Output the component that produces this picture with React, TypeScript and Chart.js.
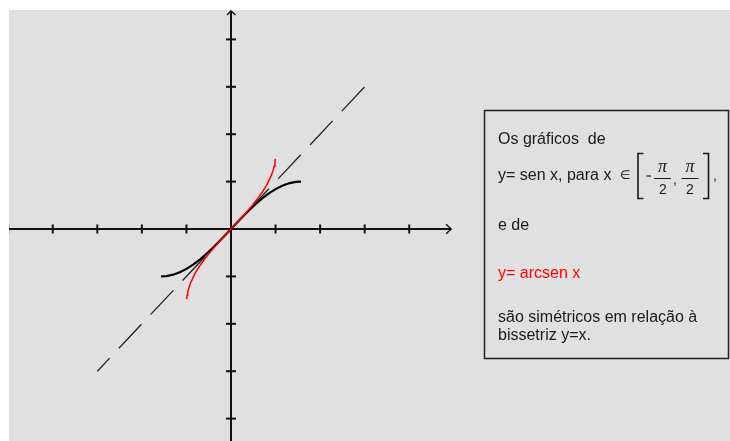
import { useEffect, useRef } from "react";
import { Chart, registerables } from "chart.js";

Chart.register(...registerables);

// Tick values on the axes
const xTicks = [-5, -4, -3, -2, -1, 1, 2, 3, 4];
const yTicks = [-4, -3, -2, -1, 1, 2, 3, 4];
// Axis extents (data units)
const xAxisExtent = [-5, 4.94];
const yAxisExtent = [-4.5, 4.6];

// y = sen x, x in [-pi/2, pi/2]
const sinX = [-1.571, -1.45, -1.3, -1.15, -1.0, -0.85, -0.7, -0.55, -0.4, -0.25, -0.1, 0, 0.1, 0.25, 0.4, 0.55, 0.7, 0.85, 1.0, 1.15, 1.3, 1.45, 1.571];
const sinY = [-1.0, -0.993, -0.964, -0.913, -0.841, -0.751, -0.644, -0.523, -0.389, -0.247, -0.1, 0, 0.1, 0.247, 0.389, 0.523, 0.644, 0.751, 0.841, 0.913, 0.964, 0.993, 1.0];

// y = arcsen x
const asinX = [-0.996, -0.985, -0.97, -0.94, -0.9, -0.8, -0.7, -0.6, -0.45, -0.3, -0.15, 0, 0.15, 0.3, 0.45, 0.6, 0.7, 0.8, 0.9, 0.94, 0.97, 0.985, 0.996];
const asinY = [-1.48, -1.398, -1.325, -1.223, -1.12, -0.927, -0.775, -0.644, -0.467, -0.305, -0.151, 0, 0.151, 0.305, 0.467, 0.644, 0.775, 0.927, 1.12, 1.223, 1.325, 1.398, 1.48];

// bissetriz y = x
const bisX = [-3, 3];
const bisY = [-3, 3];

const textLines = [
  { text: "Os gráficos  de", color: "#1a1a1a", y: 144 },
  { text: "y= sen x, para x", color: "#1a1a1a", y: 179.5 },
  { text: "e de", color: "#1a1a1a", y: 230 },
  { text: "y= arcsen x", color: "#ff0000", y: 278 },
  { text: "são simétricos em relação à", color: "#1a1a1a", y: 321.5 },
  { text: "bissetriz y=x.", color: "#1a1a1a", y: 340 },
];

const toPts = (xs: number[], ys: number[]) => xs.map((x, i) => ({ x, y: ys[i] }));

const W = 730;
const H = 441;
const X0 = 231; // pixel of x=0
const Y0 = 229; // pixel of y=0
const UX = 44.56;
const UY = 47.4;

const drawPlugin = {
  id: "drawing",
  beforeDraw(chart: any) {
    const ctx = chart.ctx;
    ctx.save();
    ctx.fillStyle = "#ffffff";
    ctx.fillRect(0, 0, W, H);
    ctx.fillStyle = "#e0e0e0";
    ctx.fillRect(9, 10, W - 9, H - 10);
    ctx.restore();
  },
  beforeDatasetsDraw(chart: any) {
    const ctx = chart.ctx;
    const xs = chart.scales.x;
    const ys = chart.scales.y;
    const x0 = xs.getPixelForValue(0);
    const y0 = ys.getPixelForValue(0);
    ctx.save();
    ctx.beginPath();
    ctx.rect(9, 10, W - 9, H - 10);
    ctx.clip();
    ctx.strokeStyle = "#111111";
    ctx.lineWidth = 2;
    ctx.lineCap = "butt";
    // x axis
    const xa = xs.getPixelForValue(xAxisExtent[0]);
    const xb = xs.getPixelForValue(xAxisExtent[1]);
    ctx.beginPath();
    ctx.moveTo(xa, y0);
    ctx.lineTo(xb, y0);
    ctx.stroke();
    // y axis
    const ya = ys.getPixelForValue(yAxisExtent[0]);
    const yb = ys.getPixelForValue(yAxisExtent[1]);
    ctx.beginPath();
    ctx.moveTo(x0, ya);
    ctx.lineTo(x0, yb);
    ctx.stroke();
    // ticks
    xTicks.forEach((t) => {
      const p = xs.getPixelForValue(t);
      ctx.beginPath();
      ctx.moveTo(p, y0 - 4.5);
      ctx.lineTo(p, y0 + 4.5);
      ctx.stroke();
    });
    yTicks.forEach((t) => {
      const p = ys.getPixelForValue(t);
      ctx.beginPath();
      ctx.moveTo(x0 - 5, p);
      ctx.lineTo(x0 + 5, p);
      ctx.stroke();
    });
    // arrows
    ctx.lineWidth = 1.4;
    ctx.beginPath();
    ctx.moveTo(xb - 5, y0 - 4.7);
    ctx.lineTo(xb, y0);
    ctx.lineTo(xb - 5, y0 + 4.7);
    ctx.stroke();
    ctx.beginPath();
    ctx.moveTo(x0 - 4, yb + 4);
    ctx.lineTo(x0, yb);
    ctx.lineTo(x0 + 4.5, yb + 4);
    ctx.stroke();
    ctx.restore();
  },
  afterDraw(chart: any) {
    const ctx = chart.ctx;
    ctx.save();
    // text box
    ctx.strokeStyle = "#222222";
    ctx.lineWidth = 1.5;
    ctx.strokeRect(484.5, 110.5, 244, 248);
    ctx.textBaseline = "alphabetic";
    ctx.textAlign = "left";
    ctx.font = "16px 'Liberation Sans', Arial, sans-serif";
    textLines.forEach((l) => {
      ctx.fillStyle = l.color;
      ctx.fillText(l.text, 498, l.y);
    });
    // math part: ∈ [ -π/2 , π/2 ] ,
    ctx.fillStyle = "#1a1a1a";
    ctx.font = "12px 'DejaVu Sans', sans-serif";
    ctx.fillText("∈", 620, 179);
    ctx.strokeStyle = "#1a1a1a";
    ctx.lineWidth = 1.6;
    // left bracket
    ctx.beginPath();
    ctx.moveTo(643.5, 153.5);
    ctx.lineTo(638, 153.5);
    ctx.lineTo(638, 198.5);
    ctx.lineTo(643.5, 198.5);
    ctx.stroke();
    // right bracket
    ctx.beginPath();
    ctx.moveTo(703, 153.5);
    ctx.lineTo(708.5, 153.5);
    ctx.lineTo(708.5, 198.5);
    ctx.lineTo(703, 198.5);
    ctx.stroke();
    // minus
    ctx.lineWidth = 1.2;
    ctx.beginPath();
    ctx.moveTo(646.5, 176);
    ctx.lineTo(651, 176);
    ctx.stroke();
    // fraction bars
    ctx.beginPath();
    ctx.moveTo(654, 178.5);
    ctx.lineTo(671, 178.5);
    ctx.moveTo(681.5, 178.5);
    ctx.lineTo(698.5, 178.5);
    ctx.stroke();
    ctx.textAlign = "center";
    ctx.font = "italic 18px 'Liberation Serif', serif";
    ctx.fillText("π", 662.5, 172);
    ctx.fillText("π", 690, 172);
    ctx.font = "14px 'Liberation Sans', Arial, sans-serif";
    ctx.fillText("2", 663, 193.5);
    ctx.fillText("2", 690, 193.5);
    ctx.textAlign = "left";
    ctx.fillText(",", 673, 184);
    ctx.fillText(",", 713, 180);
    ctx.restore();
  },
};

export default function App() {
  const ref = useRef<HTMLCanvasElement | null>(null);
  useEffect(() => {
    if (!ref.current) return;
    const chart = new Chart(ref.current, {
      type: "scatter",
      data: {
        datasets: [
          {
            label: "arcsen",
            data: toPts(asinX, asinY),
            showLine: true,
            borderColor: "#ff0000",
            borderWidth: 1.5,
            pointRadius: 0,
            fill: false,
            order: 0,
          },
          {
            label: "sen",
            data: toPts(sinX, sinY),
            showLine: true,
            borderColor: "#000000",
            borderWidth: 2.2,
            pointRadius: 0,
            fill: false,
            order: 1,
          },
          {
            label: "y=x",
            data: toPts(bisX, bisY),
            showLine: true,
            borderColor: "#222222",
            borderWidth: 1.3,
            borderDash: [33, 13.5],
            borderDashOffset: 15,
            pointRadius: 0,
            fill: false,
            order: 2,
          },
        ],
      },
      options: {
        animation: false,
        responsive: false,
        devicePixelRatio: 1,
        layout: { padding: 0, autoPadding: false },
        plugins: { legend: { display: false }, tooltip: { enabled: false }, title: { display: false } },
        events: [],
        scales: {
          x: { type: "linear", display: false, min: -X0 / UX, max: (W - X0) / UX },
          y: { type: "linear", display: false, min: -(H - Y0) / UY, max: Y0 / UY },
        },
      },
      plugins: [drawPlugin],
    } as any);
    return () => chart.destroy();
  }, []);
  return (
    <div style={{ position: "fixed", left: 0, top: 0, width: W, height: H }}>
      <canvas ref={ref} width={W} height={H} style={{ display: "block", width: W, height: H }} />
    </div>
  );
}
